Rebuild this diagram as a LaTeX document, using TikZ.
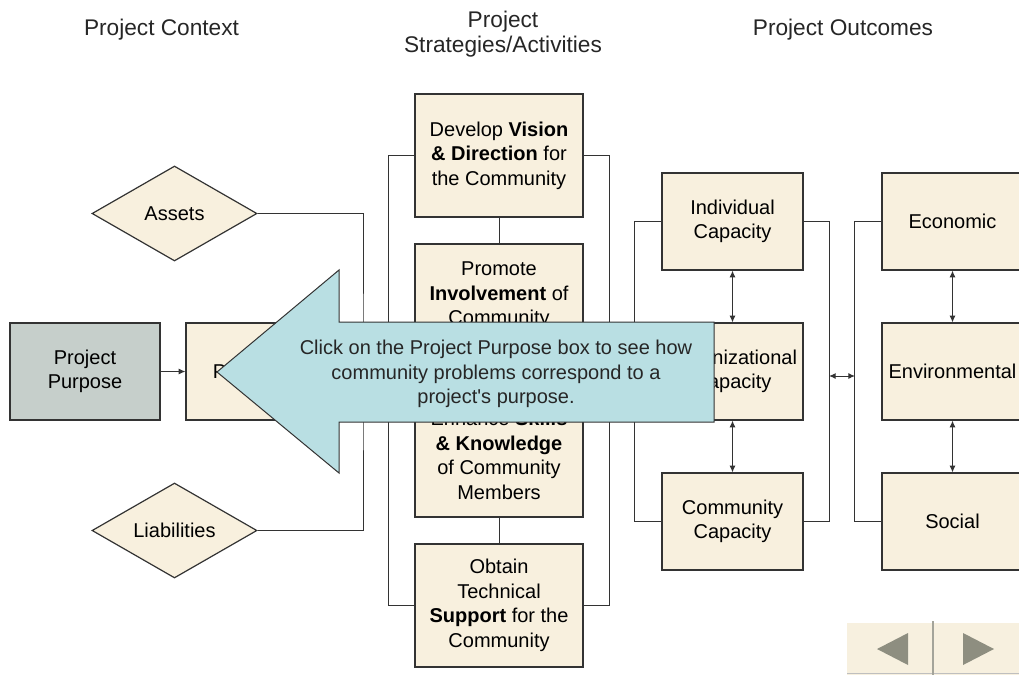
\documentclass[tikz,border=0pt]{standalone}
\usepackage{fontspec}
\setmainfont{Liberation Sans}
\usepackage{tikz}
\usetikzlibrary{shapes, arrows.meta, positioning}
\definecolor{cream}{HTML}{F8F0DE}
\definecolor{purposegray}{HTML}{C6CFCB}
\definecolor{calloutblue}{HTML}{B9DFE3}
\definecolor{linegray}{HTML}{333333}
\definecolor{navgray}{HTML}{8E8E80}
\definecolor{navcream}{HTML}{F7F0DF}
\newcommand{\boxfont}{\fontsize{15}{18.4}\selectfont}
\tikzstyle{block} = [draw=linegray, rectangle, fill=cream, line width=0.9pt, align=center, inner sep=2pt, font=\boxfont]
\tikzstyle{strategy} = [block, minimum width=126pt, minimum height=92.25pt]
\tikzstyle{capacity} = [block, minimum width=105.75pt, minimum height=72.75pt]
\tikzstyle{purpose} = [block, fill=purposegray, minimum width=112.5pt, minimum height=72.75pt]
\tikzstyle{context} = [draw=linegray, diamond, fill=cream, line width=0.9pt, aspect=1.74, inner sep=1pt, minimum width=123.75pt, minimum height=71.25pt, font=\boxfont]
\tikzstyle{heading} = [align=center, text=black!85, font=\fontsize{17}{18.75}\selectfont]
\tikzstyle{wire} = [draw=linegray, line width=0.75pt]
\tikzstyle{twoway} = [wire, <->, >={Latex[length=5pt,width=4.5pt]}]

\begin{document}
\begin{tikzpicture}[x=0.75pt, y=-0.75pt, node distance=112.5pt]
    \useasboundingbox (0,0) rectangle (1019,675);
    % column headings
    \node[heading, anchor=base] (ctxhead) at (161.5,35) {Project Context};
    \node[heading] (strathead) at (503,34) {Project\\Strategies/Activities};
    \node[heading, anchor=base] (outhead) at (843,35) {Project Outcomes};
    % project context
    \node[purpose] (purpose) at (85,371.5) {Project\\Purpose};
    \node[block, minimum width=112.5pt, minimum height=72.75pt, right of=purpose, node distance=132pt] (problems) {Problems\hspace{9pt}};
    \node[context] (assets) at (174.5,213.5) {Assets};
    \node[context] (liabilities) at (174.5,530.5) {Liabilities};
    \coordinate (ctxjoin) at (363,372);
    \draw[wire, -{Latex[length=5pt,width=4.5pt]}] (purpose) -- (problems);
    \draw[wire] (assets.east) -| (ctxjoin) |- (liabilities.east);
    % strategies / activities
    \node[strategy] (vision) at (499,155.5) {Develop \textbf{Vision}\\\textbf{\& Direction} for\\the Community};
    \node[strategy, below of=vision] (involve) {Promote\\\textbf{Involvement} of\\Community\\Members};
    \node[strategy, below of=involve] (skills) {Enhance \textbf{Skills}\\\textbf{\& Knowledge}\\of Community\\Members};
    \node[strategy, below of=skills] (support) {Obtain\\Technical\\\textbf{Support} for the\\Community};
    \draw[wire] (vision) -- (involve);
    \draw[wire] (involve) -- (skills);
    \draw[wire] (skills) -- (support);
    \draw[wire] (vision.west) -- ++(-26,0) |- (support.west);
    \draw[wire] (vision.east) -- ++(26,0) |- (support.east);
    % capacities
    \node[capacity] (individual) at (732.5,221.5) {Individual\\Capacity};
    \node[capacity, below of=individual] (organizational) {Organizational\\Capacity};
    \node[capacity, below of=organizational] (communitycap) {Community\\Capacity};
    \draw[twoway] (individual) -- (organizational);
    \draw[twoway] (organizational) -- (communitycap);
    \draw[wire] (individual.west) -- ++(-27,0) |- (communitycap.west);
    \draw[wire] (individual.east) -- ++(26,0) |- (communitycap.east);
    % outcomes
    \node[capacity, right of=individual, node distance=165pt] (economic) {Economic};
    \node[capacity, below of=economic] (environmental) {Environmental};
    \node[capacity, below of=environmental] (social) {Social};
    \draw[twoway] (economic) -- (environmental);
    \draw[twoway] (environmental) -- (social);
    \draw[wire] (economic.west) -- ++(-27,0) |- (social.west);
    \coordinate (capright) at (829,376);
    \coordinate (outleft) at (855,376);
    \draw[twoway] (capright) -- (outleft);
    % callout arrow
    \draw[draw=linegray, fill=calloutblue, line width=0.75pt] (217,372) -- (339,270) -- (339,322) -- (714,322) -- (714,422) -- (339,422) -- (339,473) -- cycle;
    \node[align=center, font=\boxfont, text=black!85] (hint) at (496,374) {Click on the Project Purpose box to see how\\community problems correspond to a\\project\textquotesingle s purpose.};
    % navigation buttons
    \fill[navcream] (847,623) rectangle (1019,675);
    \draw[black!25, line width=0.75pt] (847,673.5) -- (1019,673.5);
    \draw[navgray!80, line width=1.5pt] (933,621) -- (933,675);
    \fill[navgray] (877,649) -- (908,633) -- (908,665) -- cycle;
    \fill[navgray] (994,649) -- (963,633) -- (963,665) -- cycle;
\end{tikzpicture}
\end{document}
